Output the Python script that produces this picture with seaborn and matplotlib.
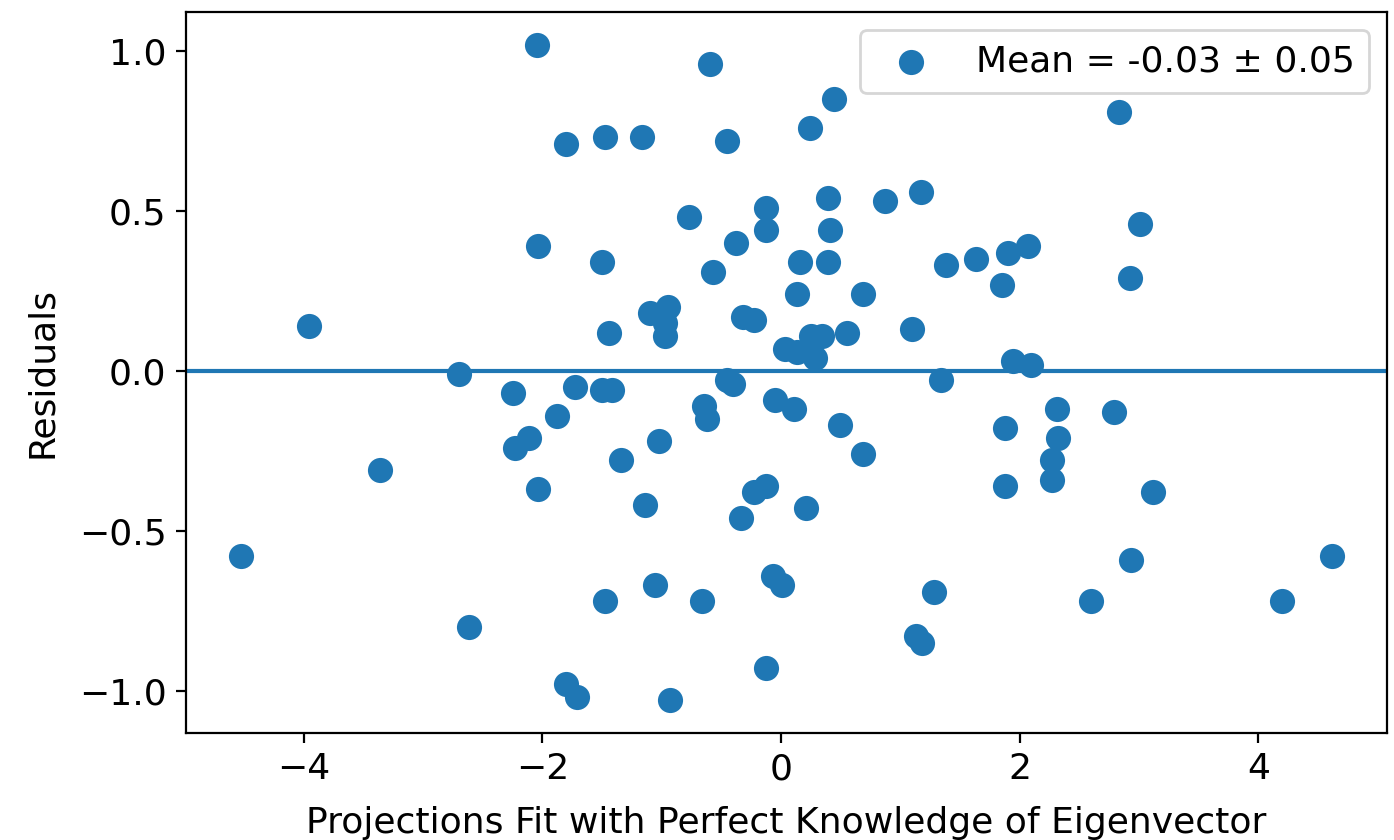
import matplotlib
matplotlib.use("Agg")
import matplotlib.pyplot as plt
import seaborn as sns
import numpy as np

x_proj = [-2.05, -0.60, 0.44, 2.83, 0.24, -1.80, -1.48, -1.17, -0.45, 1.17,
          0.39, 0.87, -0.77, -0.13, 3.01, 0.41, -0.13, -2.04, -0.38, 2.07,
          1.90, 1.63, -1.50, 0.16, 0.39, 1.38, -0.57, 2.92, 1.85, 0.13,
          0.69, -0.95, -1.10, -0.97, -0.97, -0.32, -0.23, -3.96, 1.10, -1.44,
          0.55, 0.25, 0.34, 0.03, 0.13, 0.28, 1.94, 2.09, -2.70, -0.45,
          -0.40, 1.34, -1.73, -2.25, -1.50, -1.42, -0.05, -0.65, 0.11, 2.79,
          2.31, -0.62, -1.88, 0.49, 1.88, -2.11, 2.32, -1.02, -2.23, 0.69,
          2.27, -1.34, -3.36, 2.27, -2.04, 1.88, -0.13, -0.23, 3.12, -1.14,
          0.21, -0.34, -4.53, 4.62, 2.93, -0.07, 0.01, -1.06, 1.28, -1.48,
          -0.66, 2.60, 4.20, -2.62, 1.13, 1.18, -0.13, -1.80, -1.71, -0.93]

residuals = [1.02, 0.96, 0.85, 0.81, 0.76, 0.71, 0.73, 0.73, 0.72, 0.56,
             0.54, 0.53, 0.48, 0.51, 0.46, 0.44, 0.44, 0.39, 0.40, 0.39,
             0.37, 0.35, 0.34, 0.34, 0.34, 0.33, 0.31, 0.29, 0.27, 0.24,
             0.24, 0.20, 0.18, 0.15, 0.11, 0.17, 0.16, 0.14, 0.13, 0.12,
             0.12, 0.11, 0.11, 0.07, 0.06, 0.04, 0.03, 0.02, -0.01, -0.03,
             -0.04, -0.03, -0.05, -0.07, -0.06, -0.06, -0.09, -0.11, -0.12, -0.13,
             -0.12, -0.15, -0.14, -0.17, -0.18, -0.21, -0.21, -0.22, -0.24, -0.26,
             -0.28, -0.28, -0.31, -0.34, -0.37, -0.36, -0.36, -0.38, -0.38, -0.42,
             -0.43, -0.46, -0.58, -0.58, -0.59, -0.64, -0.67, -0.67, -0.69, -0.72,
             -0.72, -0.72, -0.72, -0.80, -0.83, -0.85, -0.93, -0.98, -1.02, -1.03]

legend_label = "Mean = -0.03 \u00b1 0.05"
x_label = "Projections Fit with Perfect Knowledge of Eigenvector"
y_label = "Residuals"

color = "#1f77b4"
fs = 13

fig = plt.figure(figsize=(6.97, 4.2), dpi=200)
ax = fig.add_axes([186 / 1394, 107 / 840, (1387 - 186) / 1394, (733 - 12) / 840])

sns.scatterplot(x=x_proj, y=residuals, ax=ax, s=82, color=color,
                linewidth=0, label=legend_label)
ax.axhline(0, color=color, linewidth=1.5)

ax.set_xlabel(x_label, fontsize=fs, labelpad=7)
ax.set_ylabel(y_label, fontsize=fs, labelpad=7)
ax.tick_params(labelsize=fs)
ax.legend(loc="upper right", fontsize=fs)

fig.savefig("out.png", dpi=200)
